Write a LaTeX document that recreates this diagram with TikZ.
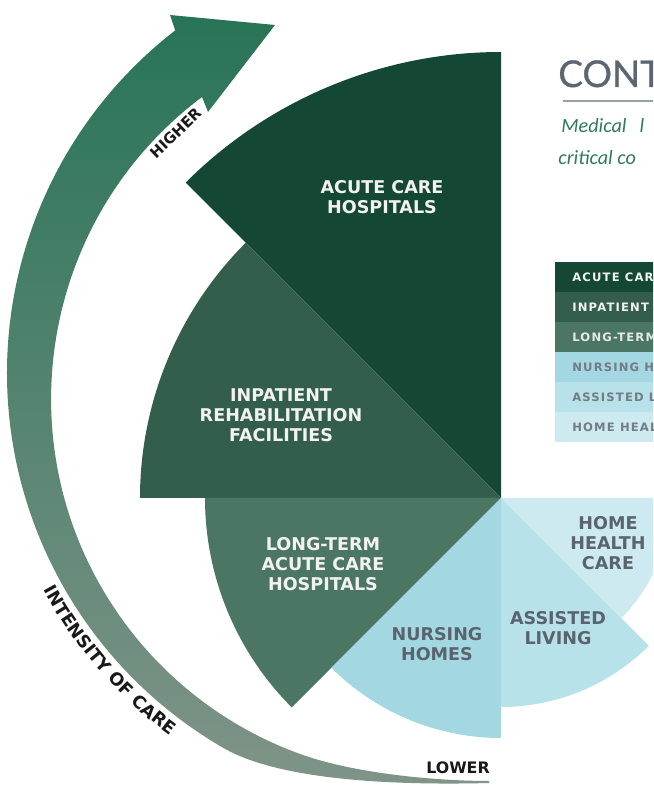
\documentclass[tikz,border=0pt]{standalone}
\usepackage{fontspec}
\setmainfont{DejaVu Sans}
\newfontfamily\headfont[FakeBold=0.7]{Lato}
\newfontfamily\introfont{Carlito}
\usepackage{tikz}
\usetikzlibrary{decorations.text}
\definecolor{acute}{RGB}{20, 72, 52}
\definecolor{rehab}{RGB}{52, 94, 76}
\definecolor{ltach}{RGB}{76, 118, 100}
\definecolor{nursing}{RGB}{163, 216, 227}
\definecolor{assisted}{RGB}{183, 226, 233}
\definecolor{homecare}{RGB}{205, 234, 240}
\definecolor{bluetext}{RGB}{90, 100, 110}
\definecolor{arrowtop}{RGB}{40, 116, 87}
\definecolor{arrowlow}{RGB}{128, 148, 136}
\definecolor{titlegray}{RGB}{91, 102, 112}
\definecolor{rulegray}{RGB}{150, 160, 166}
\definecolor{introgreen}{RGB}{47, 122, 92}

\tikzset{
	slicetext/.style={align=center, font=\bfseries\fontsize{10}{11.4}\selectfont},
	keytext/.style={anchor=west, inner sep=0pt, font=\bfseries\fontsize{6.6}{8}\selectfont\addfontfeature{LetterSpace=10}},
	caretext/.style={text=black!90, font=\bfseries\fontsize{8.5}{10}\selectfont},
	introtext/.style={anchor=base west, inner sep=0pt, text=introgreen, font=\introfont\itshape\fontsize{11.5}{14}\selectfont}
}

\begin{document}
\begin{tikzpicture}[x=0.02cm, y=0.02cm]
			\path[use as bounding box, clip] (-501,-289) rectangle (152,498);

			% intensity arrow: outer rim on a circle round (-61,125), inner rim round (-72,99)
			\coordinate (rim) at (-61,125);
			\path[top color=arrowtop, bottom color=arrowlow]
				(-12,-285) .. controls (-90,-287) and (-217,-285) .. (-277.5,-250)
				arc[start angle=240, end angle=127.7, radius=433]
				-- (-331,483) -- (-226,473) -- (-293,386) -- (-299,401)
				arc[start angle=126.9, end angle=250, radius=377.6]
				.. controls (-144.6,-276.5) and (-60,-283) .. (-12,-283) -- cycle;

			\node[caretext, fill=white, rotate=44, inner sep=1.5pt] (higher) at (-325,365) {HIGHER};
			\node[caretext, font=\bfseries\fontsize{9}{11}\selectfont] (lower) at (-43,-270) {LOWER};
			\path[decorate, decoration={text along path, text align=center,
				text={|\bfseries\fontsize{10}{12}\selectfont\color{black!90}|INTENSITY OF CARE}}]
				(rim) ++(200:452) arc[start angle=200, end angle=242, radius=452];

			% the six settings of care, one wedge of 45 degrees each
			\coordinate (c) at (0,0);
			\fill[acute]    (c) -- (90:446)  arc[start angle=90,  end angle=135, radius=446] -- cycle;
			\fill[rehab]    (c) -- (135:361) arc[start angle=135, end angle=180, radius=361] -- cycle;
			\fill[ltach]    (c) -- (180:296) arc[start angle=180, end angle=225, radius=296] -- cycle;
			\fill[nursing]  (c) -- (225:240) arc[start angle=225, end angle=270, radius=240] -- cycle;
			\fill[assisted] (c) -- (270:209) arc[start angle=270, end angle=315, radius=209] -- cycle;
			\fill[homecare] (c) -- (315:170) arc[start angle=315, end angle=360, radius=170] -- cycle;

			\node[slicetext, text=white!95!black] (acutelbl) at (-119,301) {ACUTE CARE\\HOSPITALS};
			\node[slicetext, text=white!95!black] (rehablbl) at (-220,83) {INPATIENT\\REHABILITATION\\FACILITIES};
			\node[slicetext, text=white!95!black] (ltachlbl) at (-178,-66) {LONG-TERM\\ACUTE CARE\\HOSPITALS};
			\node[slicetext, text=bluetext] (nursinglbl) at (-64,-146) {NURSING\\HOMES};
			\node[slicetext, text=bluetext] (assistedlbl) at (57,-130) {ASSISTED\\LIVING};
			\node[slicetext, text=bluetext] (homelbl) at (107,-45) {HOME\\HEALTH\\CARE};

			% heading
			\node[anchor=base west, inner sep=0pt, text=titlegray, font=\headfont\fontsize{21}{24}\selectfont] (title) at (57,411) {CONT};
			\draw[rulegray, line width=0.9pt] (62,397) -- (160,397);
			\node[introtext] (intro1) at (60,365) {Medical\hspace{0.65em}l};
			\node[introtext] (intro2) at (57,333) {critical co};

			% key
			\fill[acute]    (54,236) rectangle (160,206);
			\fill[rehab]    (54,206) rectangle (160,176);
			\fill[ltach]    (54,176) rectangle (160,146);
			\fill[nursing]  (54,146) rectangle (160,116);
			\fill[assisted] (54,116) rectangle (160,86);
			\fill[homecare] (54,86)  rectangle (160,56);

			\node[keytext, text=white!95!black] (key1) at (71,221) {ACUTE CARE};
			\node[keytext, text=white!95!black] (key2) at (71,191) {INPATIENT};
			\node[keytext, text=white!85!ltach] (key3) at (71,161) {LONG-TERM};
			\node[keytext, text=bluetext!85] (key4) at (71,131) {NURSING H};
			\node[keytext, text=bluetext!85] (key5) at (71,101) {ASSISTED L};
			\node[keytext, text=bluetext!85] (key6) at (71,71)  {HOME HEAL};

		\end{tikzpicture}
\end{document}
